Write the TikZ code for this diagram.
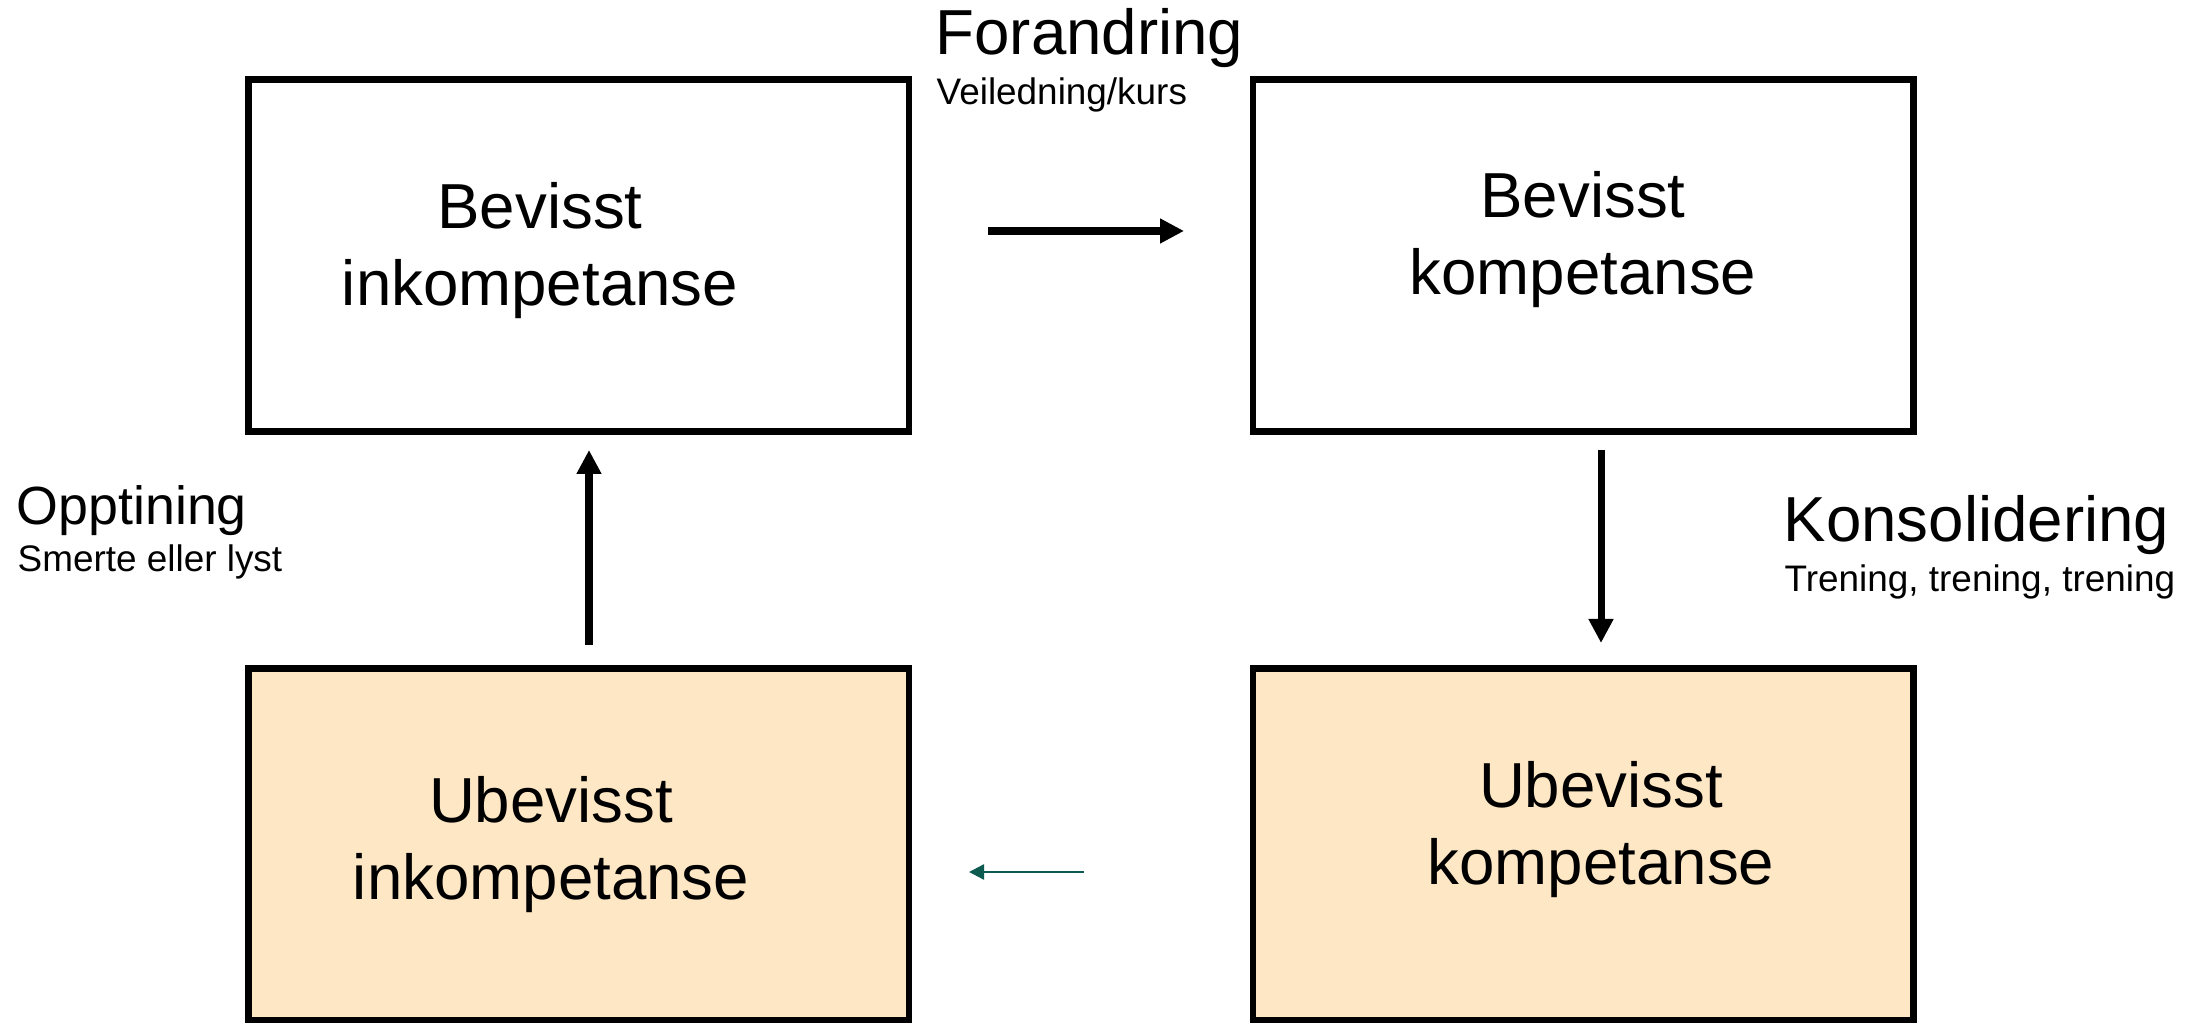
\documentclass[tikz,border=0pt]{standalone}
\usepackage{fontspec}
\setmainfont{Liberation Sans}
\usepackage{tikz}
\usetikzlibrary{arrows.meta}
\definecolor{stagefill}{RGB}{253,231,197}
\definecolor{stagegreen}{RGB}{12,90,80}

\begin{document}
\begin{tikzpicture}[
                stage/.style={rectangle, draw, line width=1.85pt, minimum width=6.605cm, minimum height=3.52cm, inner sep=0pt}, % Boxes for the four stages
                stagetext/.style={align=center, inner sep=0pt, font=\fontsize{18.1}{21.9}\selectfont}, % Text inside boxes
                steptitle/.style={anchor=base west, inner sep=0pt, font=\fontsize{18.1}{20}\selectfont}, % Step name
                stepsub/.style={anchor=base west, inner sep=0pt, font=\fontsize{10.5}{12.5}\selectfont}, % Step comment
                bigarrow/.style={line width=2pt, -{Triangle[length=0.24cm, width=0.235cm]}}, % Thick black arrow
                thinarrow/.style={line width=0.7pt, stagegreen, -{Triangle[length=0.15cm, width=0.15cm]}} % Thin green arrow
                ]
                \useasboundingbox (0,0) rectangle (22.03,10.22);
                % stages
                \node[stage] (bi) at (5.7875,7.6625) {};
                \node[stage] (bk) at (15.83,7.6625) {};
                \node[stage, fill=stagefill] (ui) at (5.7875,1.775) {};
                \node[stage, fill=stagefill] (uk) at (15.83,1.775) {};
                \node[stagetext] (bi-text) at (5.40,7.715) {Bevisst\\inkompetanse};
                \node[stagetext] (bk-text) at (15.83,7.825) {Bevisst\\kompetanse};
                \node[stagetext] (ui-text) at (5.51,1.77) {Ubevisst\\inkompetanse};
                \node[stagetext] (uk-text) at (16.01,1.925) {Ubevisst\\kompetanse};
                % steps
                \node[steptitle] (forandring) at (9.35,9.67) {Forandring};
                \node[stepsub] (forandring-sub) at (9.36,9.17) {Veiledning/kurs};
                \node[steptitle] (konsolidering) at (17.83,4.80) {Konsolidering};
                \node[stepsub] (konsolidering-sub) at (17.84,4.30) {Trening, trening, trening};
                \node[steptitle, font=\fontsize{15.3}{18}\selectfont] (opptining) at (0.16,4.97) {Opptining};
                \node[stepsub] (opptining-sub) at (0.17,4.50) {Smerte eller lyst};
                % arrow ends
                \coordinate (f-from) at (9.88,7.91);
                \coordinate (f-to) at (11.84,7.91);
                \coordinate (k-from) at (16.01,5.72);
                \coordinate (k-to) at (16.01,3.79);
                \coordinate (o-from) at (5.89,3.77);
                \coordinate (o-to) at (5.89,5.72);
                \coordinate (u-from) at (10.84,1.50);
                \coordinate (u-to) at (9.69,1.50);
                \draw[bigarrow] (f-from) -- (f-to);
                \draw[bigarrow] (k-from) -- (k-to);
                \draw[bigarrow] (o-from) -- (o-to);
                \draw[thinarrow] (u-from) -- (u-to);
            \end{tikzpicture}
\end{document}
